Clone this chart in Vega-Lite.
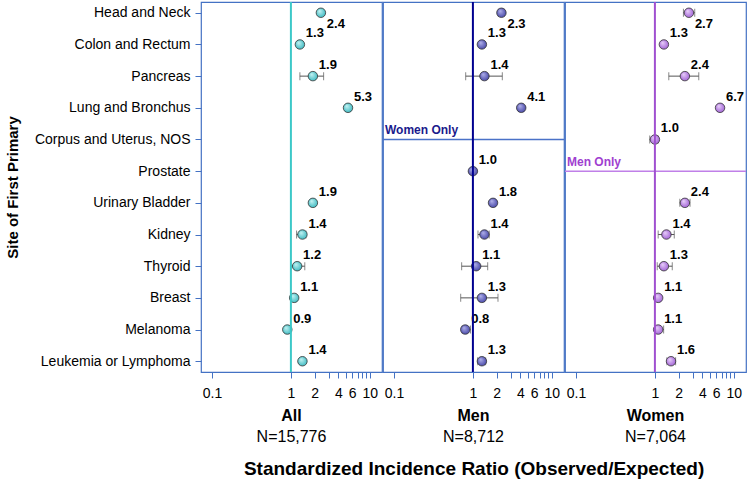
{
  "$schema": "https://vega.github.io/schema/vega-lite/v6.json",
  "background": "white",
  "padding": {"left": 4, "top": 0, "right": 0, "bottom": 4},
  "bounds": "flush",
  "config": {
    "font": "Liberation Sans",
    "view": {"stroke": "#4472C4", "strokeWidth": 1.2},
    "axis": {"grid": false, "domain": false, "labelColor": "black", "titleColor": "black"}
  },
  "title": {
    "text": "Standardized Incidence Ratio (Observed/Expected)",
    "orient": "bottom",
    "anchor": "middle",
    "dx": 98,
    "offset": 14,
    "fontSize": 19,
    "fontWeight": "bold",
    "color": "black"
  },
  "data": {
    "values": [
      {"panel": "All", "site": "Head and Neck", "sir": 2.4},
      {"panel": "All", "site": "Colon and Rectum", "sir": 1.3},
      {"panel": "All", "site": "Pancreas", "sir": 1.9, "lo": 1.3, "hi": 2.6},
      {"panel": "All", "site": "Lung and Bronchus", "sir": 5.3},
      {"panel": "All", "site": "Urinary Bladder", "sir": 1.9},
      {"panel": "All", "site": "Kidney", "sir": 1.4, "lo": 1.18, "hi": 1.55},
      {"panel": "All", "site": "Thyroid", "sir": 1.2, "lo": 1.0, "hi": 1.5},
      {"panel": "All", "site": "Breast", "sir": 1.1},
      {"panel": "All", "site": "Melanoma", "sir": 0.9},
      {"panel": "All", "site": "Leukemia or Lymphoma", "sir": 1.4},
      {"panel": "Men", "site": "Head and Neck", "sir": 2.3, "lo": 2.1, "hi": 2.5},
      {"panel": "Men", "site": "Colon and Rectum", "sir": 1.3},
      {"panel": "Men", "site": "Pancreas", "sir": 1.4, "lo": 0.81, "hi": 2.36},
      {"panel": "Men", "site": "Lung and Bronchus", "sir": 4.1},
      {"panel": "Men", "site": "Prostate", "sir": 1.0},
      {"panel": "Men", "site": "Urinary Bladder", "sir": 1.8},
      {"panel": "Men", "site": "Kidney", "sir": 1.4, "lo": 1.16, "hi": 1.61},
      {"panel": "Men", "site": "Thyroid", "sir": 1.1, "lo": 0.72, "hi": 1.54},
      {"panel": "Men", "site": "Breast", "sir": 1.3, "lo": 0.7, "hi": 2.08},
      {"panel": "Men", "site": "Melanoma", "sir": 0.8, "lo": 0.73, "hi": 0.93},
      {"panel": "Men", "site": "Leukemia or Lymphoma", "sir": 1.3, "lo": 1.15, "hi": 1.45},
      {"panel": "Women", "site": "Head and Neck", "sir": 2.7, "lo": 2.3, "hi": 3.2},
      {"panel": "Women", "site": "Colon and Rectum", "sir": 1.3},
      {"panel": "Women", "site": "Pancreas", "sir": 2.4, "lo": 1.5, "hi": 3.6},
      {"panel": "Women", "site": "Lung and Bronchus", "sir": 6.7},
      {"panel": "Women", "site": "Corpus and Uterus, NOS", "sir": 1.0, "lo": 0.86, "hi": 1.1},
      {"panel": "Women", "site": "Urinary Bladder", "sir": 2.4, "lo": 2.07, "hi": 2.79},
      {"panel": "Women", "site": "Kidney", "sir": 1.4, "lo": 1.1, "hi": 1.76},
      {"panel": "Women", "site": "Thyroid", "sir": 1.3, "lo": 1.07, "hi": 1.66},
      {"panel": "Women", "site": "Breast", "sir": 1.1},
      {"panel": "Women", "site": "Melanoma", "sir": 1.1, "lo": 0.99, "hi": 1.29},
      {"panel": "Women", "site": "Leukemia or Lymphoma", "sir": 1.6, "lo": 1.42, "hi": 1.83}
    ]
  },
  "spacing": 1,
  "resolve": {"scale": {"x": "independent", "y": "independent"}},
  "hconcat": [
    {
      "width": 181, "height": 370,
      "title": {"text": "All", "subtitle": "N=15,776", "orient": "bottom", "anchor": "middle", "frame": "group", "offset": 8, "fontSize": 16, "fontWeight": "bold", "color": "black", "subtitleFontSize": 16, "subtitleColor": "black", "subtitlePadding": 5},
      "transform": [{"filter": "datum.panel === 'All'"}],
      "layer": [
        {
          "transform": [{"filter": "isValid(datum.lo)"}],
          "mark": {"type": "rule", "color": "#555555", "strokeWidth": 1},
          "encoding": {
            "x": {"field": "lo", "type": "quantitative", "scale": {"type": "log", "domain": [0.0724, 14.3], "nice": false}, "axis": {"title": null, "values": [0.1, 1, 2, 3, 4, 5, 6, 7, 8, 9, 10], "labelExpr": "indexof([0.1, 1, 2, 4, 6, 10], datum.value) >= 0 ? format(datum.value, '~g') : ''", "labelOverlap": false, "labelFlush": false, "tickColor": "#4472C4", "tickSize": 6, "labelPadding": 8, "labelFontSize": 14}},
            "x2": {"field": "hi"},
            "y": {"field": "site", "type": "nominal", "scale": {"type": "point", "padding": 0.34, "domain": ["Head and Neck", "Colon and Rectum", "Pancreas", "Lung and Bronchus", "Corpus and Uterus, NOS", "Prostate", "Urinary Bladder", "Kidney", "Thyroid", "Breast", "Melanoma", "Leukemia or Lymphoma"]}, "axis": {"title": "Site of First Primary", "titleFontSize": 15, "titleFontWeight": "bold", "titlePadding": 14, "labelFontSize": 14, "labelPadding": 5, "tickColor": "#4472C4", "tickSize": 6}}
          }
        },
        {
          "transform": [{"filter": "isValid(datum.lo)"}],
          "mark": {"type": "tick", "orient": "vertical", "color": "#555555", "size": 8, "thickness": 1},
          "encoding": {
            "x": {"field": "lo", "type": "quantitative"},
            "y": {"field": "site", "type": "nominal"}
          }
        },
        {
          "transform": [{"filter": "isValid(datum.hi)"}],
          "mark": {"type": "tick", "orient": "vertical", "color": "#555555", "size": 8, "thickness": 1},
          "encoding": {
            "x": {"field": "hi", "type": "quantitative"},
            "y": {"field": "site", "type": "nominal"}
          }
        },
        {
          "mark": {"type": "point", "shape": "circle", "filled": true, "size": 90, "opacity": 1, "stroke": "#333333", "strokeWidth": 0.8,
            "fill": {"gradient": "radial", "x1": 0.35, "y1": 0.3, "r1": 0, "x2": 0.5, "y2": 0.5, "r2": 0.6, "stops": [{"offset": 0, "color": "#C8F4F4"}, {"offset": 1, "color": "#30B4BC"}]}},
          "encoding": {
            "x": {"field": "sir", "type": "quantitative"},
            "y": {"field": "site", "type": "nominal"}
          }
        },
        {
          "transform": [{"filter": "datum.site !== 'Head and Neck'"}],
          "mark": {"type": "text", "dx": 15, "dy": -11, "fontSize": 13, "fontWeight": "bold", "color": "black"},
          "encoding": {
            "x": {"field": "sir", "type": "quantitative"},
            "y": {"field": "site", "type": "nominal"},
            "text": {"field": "sir", "format": ".1f"}
          }
        },
        {
          "transform": [{"filter": "datum.site === 'Head and Neck'"}],
          "mark": {"type": "text", "dx": 15, "dy": 11, "fontSize": 13, "fontWeight": "bold", "color": "black"},
          "encoding": {
            "x": {"field": "sir", "type": "quantitative"},
            "y": {"field": "site", "type": "nominal"},
            "text": {"field": "sir", "format": ".1f"}
          }
        },
        {
          "data": {"values": [{}]},
          "mark": {"type": "rule", "color": "#3CC8C8", "strokeWidth": 2},
          "encoding": {"x": {"datum": 1, "type": "quantitative"}}
        }
      ]
    },
    {
      "width": 181, "height": 370,
      "title": {"text": "Men", "subtitle": "N=8,712", "orient": "bottom", "anchor": "middle", "frame": "group", "offset": 8, "fontSize": 16, "fontWeight": "bold", "color": "black", "subtitleFontSize": 16, "subtitleColor": "black", "subtitlePadding": 5},
      "transform": [{"filter": "datum.panel === 'Men'"}],
      "layer": [
        {
          "data": {"values": [{}]},
          "mark": {"type": "rule", "color": "#4A72C8", "strokeWidth": 1.5},
          "encoding": {"y": {"datum": "Corpus and Uterus, NOS", "type": "nominal", "scale": {"type": "point", "padding": 0.34, "domain": ["Head and Neck", "Colon and Rectum", "Pancreas", "Lung and Bronchus", "Corpus and Uterus, NOS", "Prostate", "Urinary Bladder", "Kidney", "Thyroid", "Breast", "Melanoma", "Leukemia or Lymphoma"]}, "axis": null}}
        },
        {
          "data": {"values": [{}]},
          "mark": {"type": "text", "text": "Women Only", "align": "left", "baseline": "alphabetic", "dx": 2, "dy": -5, "fontSize": 12, "fontWeight": "bold", "color": "#1A1A8C"},
          "encoding": {
            "x": {"datum": 0.0724, "type": "quantitative"},
            "y": {"datum": "Corpus and Uterus, NOS", "type": "nominal"}
          }
        },
        {
          "transform": [{"filter": "isValid(datum.lo)"}],
          "mark": {"type": "rule", "color": "#555555", "strokeWidth": 1},
          "encoding": {
            "x": {"field": "lo", "type": "quantitative", "scale": {"type": "log", "domain": [0.0724, 14.3], "nice": false}, "axis": {"title": null, "values": [0.1, 1, 2, 3, 4, 5, 6, 7, 8, 9, 10], "labelExpr": "indexof([0.1, 1, 2, 4, 6, 10], datum.value) >= 0 ? format(datum.value, '~g') : ''", "labelOverlap": false, "labelFlush": false, "tickColor": "#4472C4", "tickSize": 6, "labelPadding": 8, "labelFontSize": 14}},
            "x2": {"field": "hi"},
            "y": {"field": "site", "type": "nominal"}
          }
        },
        {
          "transform": [{"filter": "isValid(datum.lo)"}],
          "mark": {"type": "tick", "orient": "vertical", "color": "#555555", "size": 8, "thickness": 1},
          "encoding": {
            "x": {"field": "lo", "type": "quantitative"},
            "y": {"field": "site", "type": "nominal"}
          }
        },
        {
          "transform": [{"filter": "isValid(datum.hi)"}],
          "mark": {"type": "tick", "orient": "vertical", "color": "#555555", "size": 8, "thickness": 1},
          "encoding": {
            "x": {"field": "hi", "type": "quantitative"},
            "y": {"field": "site", "type": "nominal"}
          }
        },
        {
          "mark": {"type": "point", "shape": "circle", "filled": true, "size": 90, "opacity": 1, "stroke": "#333333", "strokeWidth": 0.8,
            "fill": {"gradient": "radial", "x1": 0.35, "y1": 0.3, "r1": 0, "x2": 0.5, "y2": 0.5, "r2": 0.6, "stops": [{"offset": 0, "color": "#B4B4EC"}, {"offset": 1, "color": "#3C3CA0"}]}},
          "encoding": {
            "x": {"field": "sir", "type": "quantitative"},
            "y": {"field": "site", "type": "nominal"}
          }
        },
        {
          "transform": [{"filter": "datum.site !== 'Head and Neck'"}],
          "mark": {"type": "text", "dx": 15, "dy": -11, "fontSize": 13, "fontWeight": "bold", "color": "black"},
          "encoding": {
            "x": {"field": "sir", "type": "quantitative"},
            "y": {"field": "site", "type": "nominal"},
            "text": {"field": "sir", "format": ".1f"}
          }
        },
        {
          "transform": [{"filter": "datum.site === 'Head and Neck'"}],
          "mark": {"type": "text", "dx": 15, "dy": 11, "fontSize": 13, "fontWeight": "bold", "color": "black"},
          "encoding": {
            "x": {"field": "sir", "type": "quantitative"},
            "y": {"field": "site", "type": "nominal"},
            "text": {"field": "sir", "format": ".1f"}
          }
        },
        {
          "data": {"values": [{}]},
          "mark": {"type": "rule", "color": "#000090", "strokeWidth": 2},
          "encoding": {"x": {"datum": 1, "type": "quantitative"}}
        }
      ]
    },
    {
      "width": 181, "height": 370,
      "title": {"text": "Women", "subtitle": "N=7,064", "orient": "bottom", "anchor": "middle", "frame": "group", "offset": 8, "fontSize": 16, "fontWeight": "bold", "color": "black", "subtitleFontSize": 16, "subtitleColor": "black", "subtitlePadding": 5},
      "transform": [{"filter": "datum.panel === 'Women'"}],
      "layer": [
        {
          "data": {"values": [{}]},
          "mark": {"type": "rule", "color": "#C080E8", "strokeWidth": 1.5},
          "encoding": {"y": {"datum": "Prostate", "type": "nominal", "scale": {"type": "point", "padding": 0.34, "domain": ["Head and Neck", "Colon and Rectum", "Pancreas", "Lung and Bronchus", "Corpus and Uterus, NOS", "Prostate", "Urinary Bladder", "Kidney", "Thyroid", "Breast", "Melanoma", "Leukemia or Lymphoma"]}, "axis": null}}
        },
        {
          "data": {"values": [{}]},
          "mark": {"type": "text", "text": "Men Only", "align": "left", "baseline": "alphabetic", "dx": 2, "dy": -5, "fontSize": 12, "fontWeight": "bold", "color": "#A040D0"},
          "encoding": {
            "x": {"datum": 0.0724, "type": "quantitative"},
            "y": {"datum": "Prostate", "type": "nominal"}
          }
        },
        {
          "transform": [{"filter": "isValid(datum.lo)"}],
          "mark": {"type": "rule", "color": "#555555", "strokeWidth": 1},
          "encoding": {
            "x": {"field": "lo", "type": "quantitative", "scale": {"type": "log", "domain": [0.0724, 14.3], "nice": false}, "axis": {"title": null, "values": [0.1, 1, 2, 3, 4, 5, 6, 7, 8, 9, 10], "labelExpr": "indexof([0.1, 1, 2, 4, 6, 10], datum.value) >= 0 ? format(datum.value, '~g') : ''", "labelOverlap": false, "labelFlush": false, "tickColor": "#4472C4", "tickSize": 6, "labelPadding": 8, "labelFontSize": 14}},
            "x2": {"field": "hi"},
            "y": {"field": "site", "type": "nominal"}
          }
        },
        {
          "transform": [{"filter": "isValid(datum.lo)"}],
          "mark": {"type": "tick", "orient": "vertical", "color": "#555555", "size": 8, "thickness": 1},
          "encoding": {
            "x": {"field": "lo", "type": "quantitative"},
            "y": {"field": "site", "type": "nominal"}
          }
        },
        {
          "transform": [{"filter": "isValid(datum.hi)"}],
          "mark": {"type": "tick", "orient": "vertical", "color": "#555555", "size": 8, "thickness": 1},
          "encoding": {
            "x": {"field": "hi", "type": "quantitative"},
            "y": {"field": "site", "type": "nominal"}
          }
        },
        {
          "mark": {"type": "point", "shape": "circle", "filled": true, "size": 90, "opacity": 1, "stroke": "#333333", "strokeWidth": 0.8,
            "fill": {"gradient": "radial", "x1": 0.35, "y1": 0.3, "r1": 0, "x2": 0.5, "y2": 0.5, "r2": 0.6, "stops": [{"offset": 0, "color": "#EAD2FA"}, {"offset": 1, "color": "#9A58D2"}]}},
          "encoding": {
            "x": {"field": "sir", "type": "quantitative"},
            "y": {"field": "site", "type": "nominal"}
          }
        },
        {
          "transform": [{"filter": "datum.site !== 'Head and Neck'"}],
          "mark": {"type": "text", "dx": 15, "dy": -11, "fontSize": 13, "fontWeight": "bold", "color": "black"},
          "encoding": {
            "x": {"field": "sir", "type": "quantitative"},
            "y": {"field": "site", "type": "nominal"},
            "text": {"field": "sir", "format": ".1f"}
          }
        },
        {
          "transform": [{"filter": "datum.site === 'Head and Neck'"}],
          "mark": {"type": "text", "dx": 15, "dy": 11, "fontSize": 13, "fontWeight": "bold", "color": "black"},
          "encoding": {
            "x": {"field": "sir", "type": "quantitative"},
            "y": {"field": "site", "type": "nominal"},
            "text": {"field": "sir", "format": ".1f"}
          }
        },
        {
          "data": {"values": [{}]},
          "mark": {"type": "rule", "color": "#A050D0", "strokeWidth": 2},
          "encoding": {"x": {"datum": 1, "type": "quantitative"}}
        }
      ]
    }
  ]
}
